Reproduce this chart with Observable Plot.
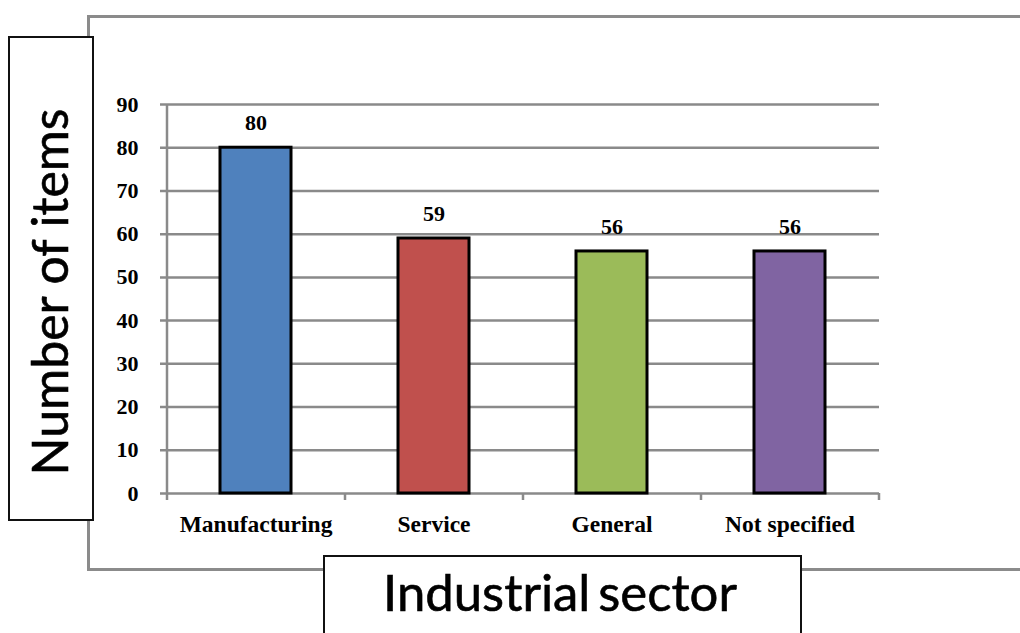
<!DOCTYPE html>
<html><head><meta charset="utf-8">
<script src="https://cdn.jsdelivr.net/npm/d3@7"></script>
<script src="https://cdn.jsdelivr.net/npm/@observablehq/plot@0.6"></script>
<style>
body{margin:0;background:#fff;}
#wrap{position:relative;width:1020px;height:633px;overflow:hidden;background:#fff;}
#frame{position:absolute;left:87px;top:15px;width:1000px;height:550px;border:3px solid #8b8b8b;}
#chart{position:absolute;left:0;top:0;}
.box{position:absolute;background:#fff;border:2px solid #111;}
#ybox{left:8px;top:36px;width:82px;height:481px;}
#xbox{left:323px;top:555px;width:475px;height:100px;}
.title{position:absolute;font-family:Lato,"Open Sans",sans-serif;font-weight:400;color:#000;white-space:nowrap;line-height:1.2;-webkit-text-stroke:0.6px #000;}
#xtitle{word-spacing:-0.1em;}
</style></head>
<body>
<div id="wrap">
  <div id="frame"></div>
  <div id="chart"></div>
  <div class="box" id="ybox"></div>
  <div class="box" id="xbox"></div>
  <div class="title" id="ytitle">Number of items</div>
  <div class="title" id="xtitle">Industrial sector</div>
</div>
<script>
const sectors = ["Manufacturing", "Service", "General", "Not specified"];
const items = [80, 59, 56, 56];
const yTicks = [0, 10, 20, 30, 40, 50, 60, 70, 80, 90];
const barColors = ["#4F81BD", "#C0504D", "#9BBB59", "#8064A2"];

const data = sectors.map((s, i) => ({sector: s, items: items[i]}));
const gridColor = "#8a8a8a";

const plot = Plot.plot({
  width: 1020, height: 633,
  marginLeft: 167, marginRight: 141, marginTop: 104, marginBottom: 140,
  style: {background: "transparent", fontFamily: "'Liberation Serif', 'Times New Roman', serif", fontWeight: "bold", fontSize: "21px", color: "#000"},
  x: {domain: sectors, paddingInner: 0.6, paddingOuter: 0.3, label: null},
  y: {domain: [0, 90], label: null},
  color: {domain: sectors, range: barColors},
  marks: [
    Plot.ruleY(yTicks, {stroke: gridColor, strokeWidth: 2.5, insetLeft: -7}),
    Plot.ruleX([sectors[0]], {dx: -89, stroke: gridColor, strokeWidth: 2.5}),
    Plot.ruleX([sectors[0]], {dx: -89, y1: 0, y2: 0, insetBottom: -7, stroke: gridColor, strokeWidth: 2.5}),
    Plot.ruleX(sectors, {dx: 89, y1: 0, y2: 0, insetBottom: -7, stroke: gridColor, strokeWidth: 2.5}),
    Plot.barY(data, {x: "sector", y: "items", fill: "sector", stroke: "#000", strokeWidth: 3}),
    Plot.text(data, {x: "sector", y: "items", text: d => String(d.items), dy: -25, lineAnchor: "middle", fontSize: 22, fontWeight: "bold", fill: "#000"}),
    Plot.axisY({ticks: yTicks, tickSize: 0, tickPadding: 29, fontSize: 22, fontWeight: "bold", fill: "#000"}),
    Plot.axisX({tickSize: 0, tickPadding: 22, fontSize: 23.5, fontWeight: "bold", fill: "#000"})
  ]
});
document.getElementById("chart").appendChild(plot);

function fit(el, target) {
  el.style.fontSize = "48px";
  const w = el.getBoundingClientRect().width;
  const s = 48 * target / w;
  el.style.fontSize = s + "px";
  return s;
}
const xt = document.getElementById("xtitle");
const sx = fit(xt, 354);
const xr = xt.getBoundingClientRect();
xt.style.left = (560 - xr.width / 2) + "px";
xt.style.top = (593.5 - 0.629 * sx) + "px";

const yt = document.getElementById("ytitle");
const sy = fit(yt, 367);
const yr = yt.getBoundingClientRect();
yt.style.left = (51.5 - yr.width / 2 - 0.029 * sy) + "px";
yt.style.top = (291.5 - yr.height / 2) + "px";
yt.style.transform = "rotate(-90deg)";
yt.style.transformOrigin = "50% 50%";
</script>
</body></html>
